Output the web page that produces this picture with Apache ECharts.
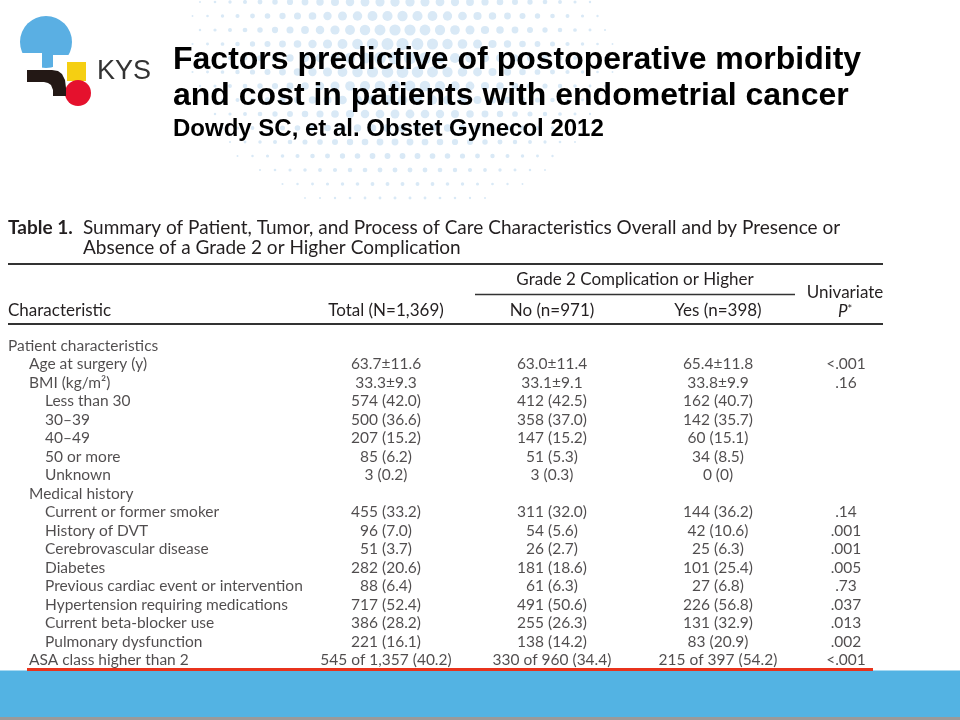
<!DOCTYPE html>
<html><head><meta charset="utf-8">
<script src="https://cdn.jsdelivr.net/npm/echarts@6.0.0/dist/echarts.min.js"></script>
<style>html,body{margin:0;padding:0;background:#fff}#c{width:960px;height:720px}</style>
</head><body><div id="c"></div>
<script>
// ---- data ----
const slideTitle = ['Factors predictive of postoperative morbidity', 'and cost in patients with endometrial cancer'];
const slideSource = 'Dowdy SC, et al. Obstet Gynecol 2012';
const tableNumber = 'Table 1.';
const tableCaption = ['Summary of Patient, Tumor, and Process of Care Characteristics Overall and by Presence or', 'Absence of a Grade 2 or Higher Complication'];
const groupHeader = 'Grade 2 Complication or Higher';
const colHeaders = ['Characteristic', 'Total (N=1,369)', 'No (n=971)', 'Yes (n=398)'];
const pHeader = ['Univariate', 'P*'];
const rowLabels = ['Patient characteristics', 'Age at surgery (y)', 'BMI (kg/m²)', 'Less than 30', '30–39', '40–49', '50 or more', 'Unknown', 'Medical history', 'Current or former smoker', 'History of DVT', 'Cerebrovascular disease', 'Diabetes', 'Previous cardiac event or intervention', 'Hypertension requiring medications', 'Current beta-blocker use', 'Pulmonary dysfunction', 'ASA class higher than 2'];
const rowLevels = [0, 1, 1, 2, 2, 2, 2, 2, 1, 2, 2, 2, 2, 2, 2, 2, 2, 1];
const totalVals = ['', '63.7±11.6', '33.3±9.3', '574 (42.0)', '500 (36.6)', '207 (15.2)', '85 (6.2)', '3 (0.2)', '', '455 (33.2)', '96 (7.0)', '51 (3.7)', '282 (20.6)', '88 (6.4)', '717 (52.4)', '386 (28.2)', '221 (16.1)', '545 of 1,357 (40.2)'];
const noVals = ['', '63.0±11.4', '33.1±9.1', '412 (42.5)', '358 (37.0)', '147 (15.2)', '51 (5.3)', '3 (0.3)', '', '311 (32.0)', '54 (5.6)', '26 (2.7)', '181 (18.6)', '61 (6.3)', '491 (50.6)', '255 (26.3)', '138 (14.2)', '330 of 960 (34.4)'];
const yesVals = ['', '65.4±11.8', '33.8±9.9', '162 (40.7)', '142 (35.7)', '60 (15.1)', '34 (8.5)', '0 (0)', '', '144 (36.2)', '42 (10.6)', '25 (6.3)', '101 (25.4)', '27 (6.8)', '226 (56.8)', '131 (32.9)', '83 (20.9)', '215 of 397 (54.2)'];
const pVals = ['', '<.001', '.16', '', '', '', '', '', '', '.14', '.001', '.001', '.005', '.73', '.037', '.013', '.002', '<.001'];

// ---- layout / style ----
const FONT = 'Lato, "Open Sans", sans-serif';
const TXT = '#231f20';
const FS = 15.5;
const HFS = 17;
const indentX = [8, 29, 45];
const colX = { total: 386, no: 552, yes: 718, p: 846 };

const chart = echarts.init(document.getElementById('c'), null, { renderer: 'canvas' });

function textSeries(name, data, align) {
  return {
    name, type: 'scatter', silent: true, symbolSize: 1,
    itemStyle: { color: 'transparent' },
    label: {
      show: true, position: 'inside', align: align, verticalAlign: 'middle',
      fontFamily: FONT, fontSize: FS, color: TXT,
      formatter: p => p.data[2]
    },
    data
  };
}
const colSeries = (name, x, vals) => textSeries(name,
  vals.map((v, i) => [x, i, v]).filter(d => d[2] !== ''), 'center');

// decorative halftone dots
const dots = [];
for (let r = 0; r < 15; r++) {
  for (let c = 0; c < 32; c++) {
    const x = 170 + c * 15 + (r % 2 ? 7.5 : 0), y = 2 + r * 14;
    const dx = (x - 400) / 1.35, dy = (y - 55);
    const d = Math.sqrt(dx * dx + dy * dy);
    const rad = 6.5 * (1 - d / 185);
    if (rad > 0.9) dots.push({ type: 'circle', silent: true, shape: { cx: x, cy: y, r: rad }, style: { fill: '#d9e9f6' }, z: 0 });
  }
}

const line = (x1, y1, x2, y2, w, col) => ({ type: 'line', silent: true, shape: { x1, y1, x2, y2 }, style: { stroke: col || '#333', lineWidth: w || 2 } });
const txt = (x, y, text, opts) => ({ type: 'text', silent: true, x, y, style: Object.assign({ text, fill: TXT, font: HFS + 'px ' + FONT, textAlign: 'left', textVerticalAlign: 'middle' }, opts || {}) });

const graphics = [].concat(dots, [
  // logo
  { type: 'circle', shape: { cx: 46, cy: 42, r: 26 }, style: { fill: '#5aafe3' } },
  { type: 'rect', shape: { x: 14, y: 53, width: 28, height: 20 }, style: { fill: '#fff' } },
  { type: 'rect', shape: { x: 53, y: 55, width: 26, height: 18 }, style: { fill: '#fff' } },
  { type: 'rect', shape: { x: 67, y: 62, width: 19, height: 19 }, style: { fill: '#f5cf12' } },
  { type: 'circle', shape: { cx: 78, cy: 93, r: 13 }, style: { fill: '#e5112d' } },
  { type: 'polygon', shape: { points: [[27, 70], [52, 70], [58, 71], [62, 74], [65, 80], [66, 88], [66, 96], [53, 96], [53, 90], [51, 85], [48, 83], [44, 82], [27, 82]] }, style: { fill: '#231815' } },
  txt(97, 72, 'KYS', { font: '27px "Liberation Sans", Arial, sans-serif', fill: '#333' }),
  // slide title
  txt(173, 60, slideTitle[0], { font: 'bold 32px "Liberation Sans", Arial, sans-serif', fill: '#000' }),
  txt(173, 96, slideTitle[1], { font: 'bold 32px "Liberation Sans", Arial, sans-serif', fill: '#000' }),
  txt(173, 129, slideSource, { font: 'bold 24px "Liberation Sans", Arial, sans-serif', fill: '#000' }),
  // table caption
  txt(8, 228, tableNumber, { font: 'bold 19px ' + FONT }),
  txt(83, 228, tableCaption[0], { font: '19px ' + FONT }),
  txt(83, 248, tableCaption[1], { font: '19px ' + FONT }),
  line(8, 264, 883, 264),
  txt(635, 280, groupHeader, { textAlign: 'center' }),
  line(475, 294.5, 795, 294.5, 1.5),
  txt(845, 293, pHeader[0], { textAlign: 'center' }),
  { type: 'text', silent: true, x: 845, y: 312, style: { text: '{i|P}{s|*}', textAlign: 'center', textVerticalAlign: 'middle', fill: TXT,
      rich: { i: { fontStyle: 'italic', fontFamily: FONT, fontSize: HFS, fill: TXT }, s: { fontFamily: FONT, fontSize: 11, verticalAlign: 'top', fill: TXT } } } },
  txt(8, 311, colHeaders[0]),
  txt(colX.total, 311, colHeaders[1], { textAlign: 'center' }),
  txt(colX.no, 311, colHeaders[2], { textAlign: 'center' }),
  txt(colX.yes, 311, colHeaders[3], { textAlign: 'center' }),
  line(8, 324, 883, 324),
  // footer band
  { type: 'rect', silent: true, shape: { x: 0, y: 670.5, width: 960, height: 47 }, style: { fill: '#53b3e3' } },
  { type: 'rect', silent: true, shape: { x: 0, y: 717, width: 960, height: 3 }, style: { fill: '#9a9a9a' } },
  line(27, 669.5, 873, 669.5, 3, '#e8331c')
]);

chart.setOption({
  animation: false,
  backgroundColor: '#fff',
  grid: { left: 0, right: 0, top: 346, bottom: 60, containLabel: false },
  xAxis: { type: 'value', min: 0, max: 960, show: false },
  yAxis: { type: 'category', data: rowLabels, inverse: true, boundaryGap: false, show: false },
  graphic: graphics,
  series: [
    textSeries('Characteristic', rowLabels.map((l, i) => [indentX[rowLevels[i]], i, l]), 'left'),
    colSeries('Total', colX.total, totalVals),
    colSeries('No', colX.no, noVals),
    colSeries('Yes', colX.yes, yesVals),
    colSeries('P', colX.p, pVals)
  ]
});
</script></body></html>
